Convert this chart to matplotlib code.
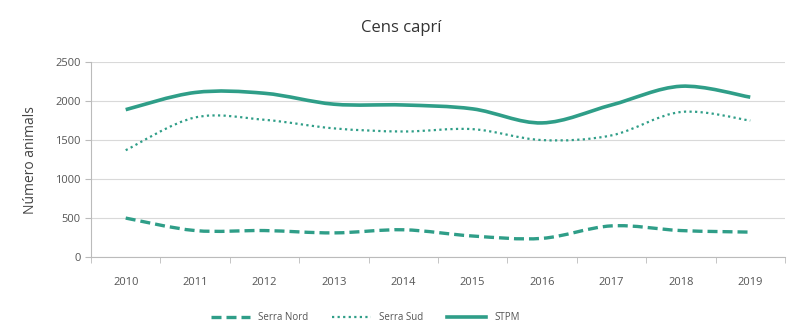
import numpy as np
import matplotlib
matplotlib.use("Agg")
import matplotlib.pyplot as plt
from matplotlib.path import Path
from matplotlib.patches import PathPatch
from matplotlib.lines import Line2D

# Data
years = ['2010', '2011', '2012', '2013', '2014', '2015', '2016', '2017', '2018', '2019']
serra_nord = [500, 340, 340, 310, 350, 270, 240, 400, 340, 320]
serra_sud = [1370, 1790, 1760, 1650, 1610, 1640, 1500, 1560, 1860, 1750]
stpm = [1890, 2110, 2100, 1960, 1950, 1900, 1720, 1950, 2190, 2050]

TEAL = '#2f9e88'
plt.rcParams['font.family'] = ['Open Sans', 'DejaVu Sans']


def smooth_path(xs, ys):
    # Excel-style smoothed line: Catmull-Rom segments as cubic Beziers
    pts = np.column_stack([xs, ys]).astype(float)
    ext = np.vstack([pts[0], pts, pts[-1]])
    verts = [tuple(pts[0])]
    codes = [Path.MOVETO]
    for i in range(1, len(ext) - 2):
        p0, p1, p2, p3 = ext[i - 1], ext[i], ext[i + 1], ext[i + 2]
        c1 = p1 + (p2 - p0) / 6.0
        c2 = p2 - (p3 - p1) / 6.0
        verts += [tuple(c1), tuple(c2), tuple(p2)]
        codes += [Path.CURVE4] * 3
    return Path(verts, codes)


fig = plt.figure(figsize=(7.94, 3.25), dpi=100)
ax = fig.add_axes([0.1146, 0.209, 0.874, 0.60])

x = np.arange(len(years))
styles = [
    (serra_nord, 'Serra Nord', (0, (3, 1.5)), 2.4),
    (serra_sud, 'Serra Sud', (0, (1, 1.5)), 1.6),
    (stpm, 'STPM', '-', 2.6),
]
handles = []
for vals, name, ls, lw in styles:
    patch = PathPatch(smooth_path(x, vals), fill=False, edgecolor=TEAL,
                      linestyle=ls, linewidth=lw, capstyle='butt')
    ax.add_patch(patch)
    handles.append(Line2D([], [], color=TEAL, linestyle=ls, linewidth=lw))

ax.set_xlim(-0.5, len(years) - 0.5)
ax.set_ylim(0, 2500)
ax.set_yticks(range(0, 2501, 500))
ax.set_xticks(x)
ax.set_xticklabels(years)
ax.set_xticks(np.arange(-0.5, len(years), 1), minor=True)
ax.tick_params(axis='x', which='major', length=0, pad=14, labelsize=8, colors='#555555')
ax.tick_params(axis='x', which='minor', length=4, color='#bbbbbb')
ax.tick_params(axis='y', length=4, color='#bbbbbb', labelsize=8, labelcolor='#555555')

ax.grid(axis='y', color='#d9d9d9', linewidth=0.8)
ax.set_axisbelow(True)
for side in ['top', 'right']:
    ax.spines[side].set_visible(False)
for side in ['left', 'bottom']:
    ax.spines[side].set_color('#bbbbbb')

ax.set_ylabel('Número animals', fontsize=10, color='#444444', labelpad=12)
fig.text(0.505, 0.915, 'Cens caprí', ha='center', va='center', fontsize=12, color='#333333')

fig.legend(handles, ['Serra Nord', 'Serra Sud', 'STPM'], loc='center',
           bbox_to_anchor=(0.46, 0.022), ncol=3, frameon=False, fontsize=7,
           handlelength=4, columnspacing=2.5, labelcolor='#555555')

fig.savefig('out.png', dpi=100)
